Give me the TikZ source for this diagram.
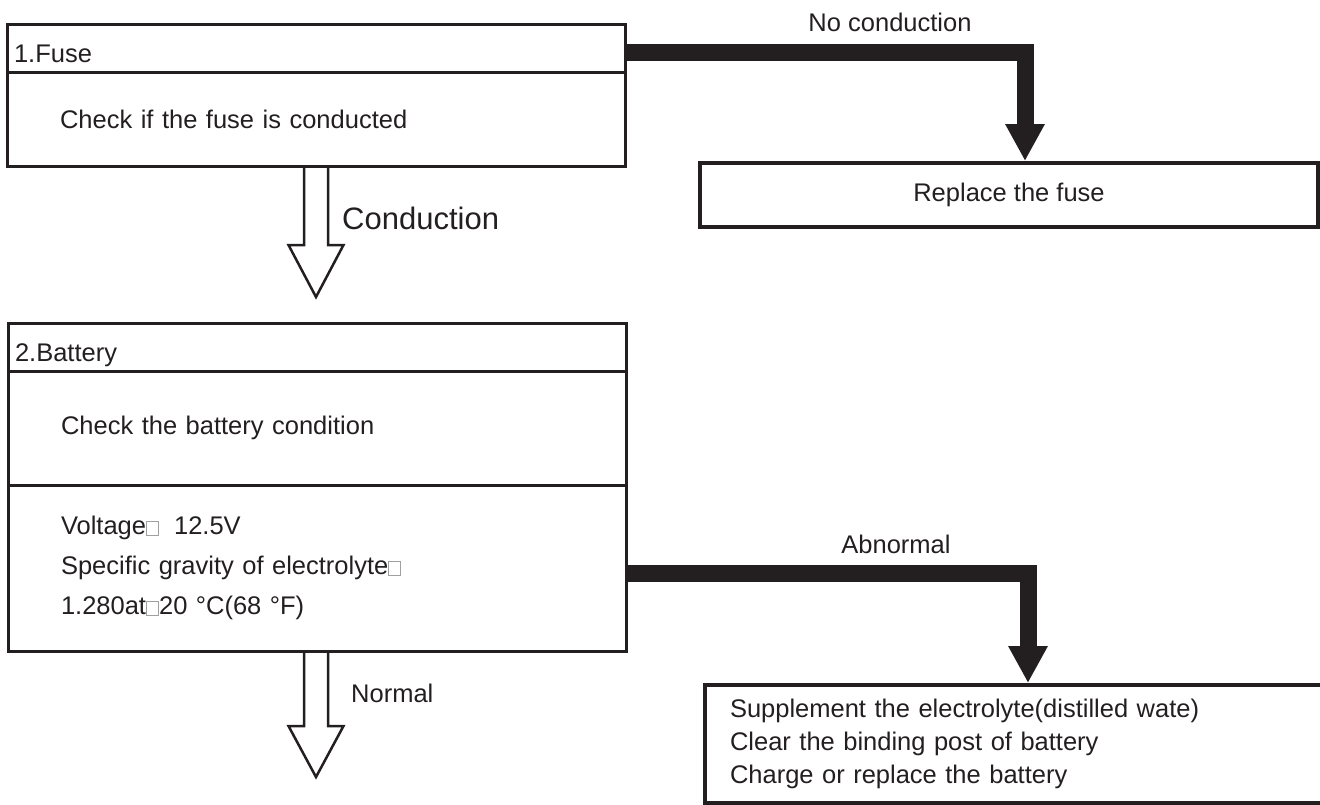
\documentclass[tikz,border=0pt]{standalone}
\usepackage{fontspec}
\setmainfont{Liberation Sans}
\usetikzlibrary{positioning,arrows.meta,calc}
\definecolor{Ink}{RGB}{35,31,32}
\definecolor{TofuGray}{RGB}{160,160,160}
\newcommand{\tofu}{{\color{TofuGray}\fboxsep=0pt\fboxrule=1pt\fbox{\rule{0pt}{13pt}\hspace{11pt}}}}

\begin{document}
\begin{tikzpicture}[
x=1pt,y=-1pt,
node distance=0pt,
every node/.style={text=Ink,font=\fontsize{25.5pt}{40pt}\selectfont},
hdr/.style={rectangle,draw=Ink,line width=3pt,outer sep=0pt,inner ysep=0pt,
minimum width=618pt,minimum height=48pt,text width=604pt,inner xsep=7pt,
align=left,text height=28pt,text depth=0pt},
body/.style={rectangle,draw=Ink,line width=3pt,outer sep=0pt,inner ysep=0pt,
minimum width=618pt,text width=512pt,inner xsep=53pt,align=left},
fix/.style={rectangle,draw=Ink,line width=3.5pt,outer sep=0pt,inner ysep=0pt},
flow/.style={-{Triangle[length=37pt,width=37pt]},line width=17pt,draw=Ink},
pass/.style={draw=Ink,line width=2.5pt,line join=miter},
lbl/.style={inner sep=0pt}
]
\useasboundingbox (0,0) rectangle (1320,804);

% step 1
\node[hdr,anchor=north west] (fusehead) at (7,24) {1.Fuse};
\node[body,minimum height=94pt,below=of fusehead] (fusebody) {Check if the fuse is conducted};
\node[fix,anchor=north west,minimum width=618pt,minimum height=64pt] (replace) at (700,163) {Replace the fuse};

% step 2
\node[hdr,anchor=north west] (batthead) at (8,323) {2.Battery};
\node[body,minimum height=114pt,below=of batthead] (battbody) {Check the battery condition};
\node[body,minimum height=166pt,below=of battbody] (gauge) {Voltage\tofu\hspace{15pt}12.5V\\
Specific gravity of electrolyte\tofu\\
1.280at\tofu20 °C(68 °F)};
\node[fix,anchor=north west,minimum width=619pt,minimum height=118pt,text width=569pt,
inner xsep=25pt,align=left,font=\fontsize{25.5pt}{33pt}\selectfont] (remedy) at (705,685)
{Supplement the electrolyte(distilled wate)\\
Clear the binding post of battery\\
Charge or replace the battery};

% labels
\node[lbl] (nocond) at (890,22) {No conduction};
\node[lbl,anchor=west,font=\fontsize{31pt}{36pt}\selectfont] (cond) at (342,218) {Conduction};
\node[lbl] (abnormal) at (896,544) {Abnormal};
\node[lbl,anchor=west] (normal) at (351,693) {Normal};

% connectors
\draw[flow] ($(fusehead.east)+(0,4.5)$) -| ($(replace.north)+(16,-2)$);
\draw[flow] ($(gauge.east)+(0,5.5)$) -| ($(remedy.north)+(13.5,-2)$);
\draw[pass] ($(fusebody.south)+(-12,0)$) -- ++(0,79) -- ++(-15.5,0) -- ++(27.5,52)
-- ++(27.5,-52) -- ++(-15.5,0) -- ++(0,-79);
\draw[pass] ($(gauge.south)+(-13,0)$) -- ++(0,75) -- ++(-15.5,0) -- ++(27.5,51)
-- ++(27.5,-51) -- ++(-15.5,0) -- ++(0,-75);
\end{tikzpicture}
\end{document}
